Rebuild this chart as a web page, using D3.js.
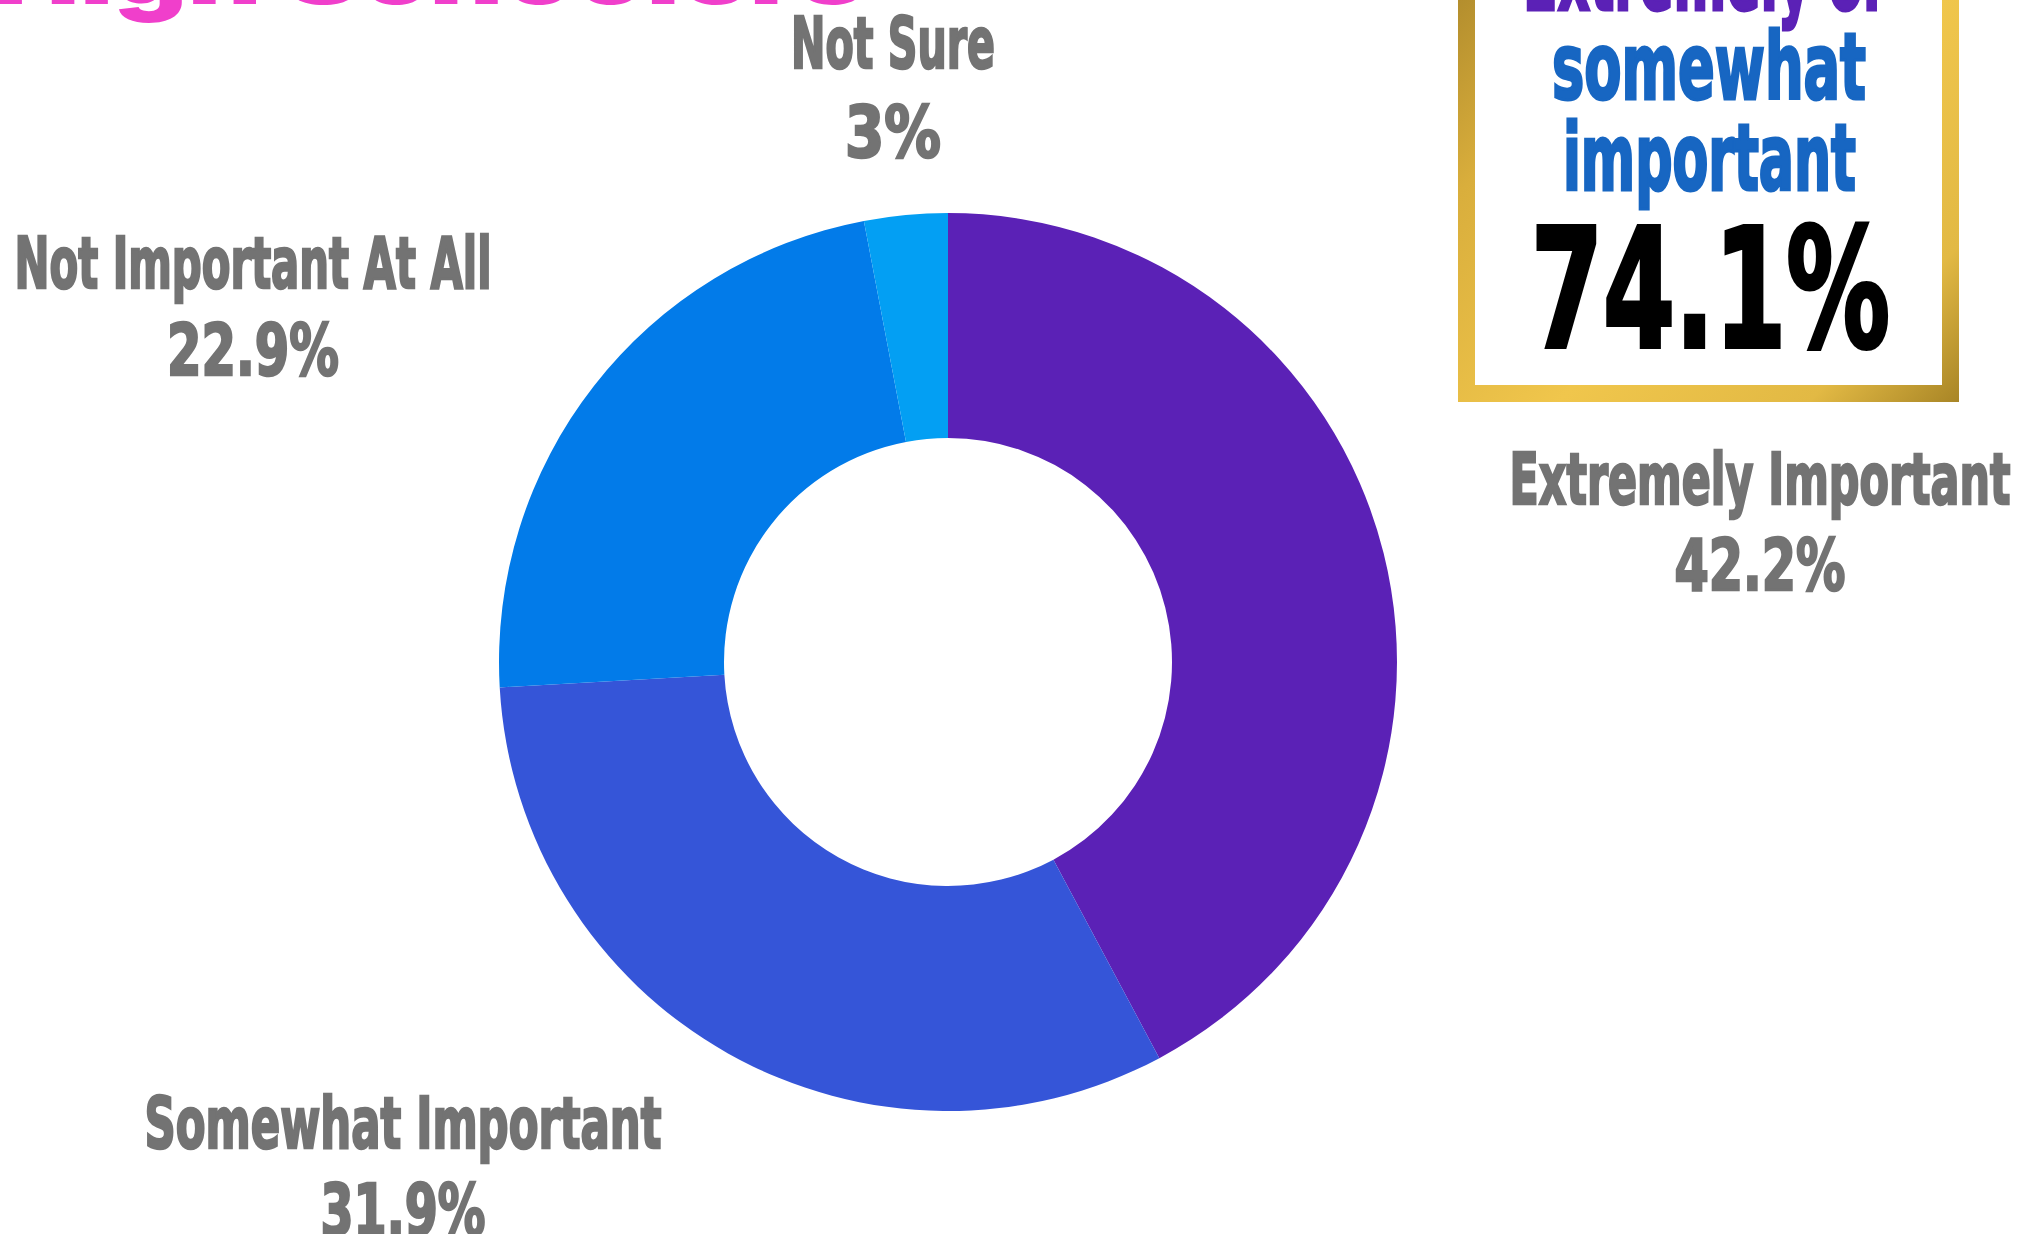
<!DOCTYPE html>
<html>
<head>
<meta charset="utf-8">
<script src="https://cdn.jsdelivr.net/npm/d3@7"></script>
<style>
  html, body { margin: 0; padding: 0; background: #ffffff; overflow: hidden; }
  svg { display: block; }
  text { font-family: "Liberation Sans Narrow", "DejaVu Sans Condensed", "Roboto", sans-serif; font-weight: bold; }
</style>
</head>
<body>
<svg id="chart" width="2044" height="1234"></svg>
<script>
// ---- data ----
const categories = ["Extremely Important", "Somewhat Important", "Not Important At All", "Not Sure"];
const values = [42.2, 31.9, 22.9, 3];
const valueLabels = ["42.2%", "31.9%", "22.9%", "3%"];
const colors = ["#5B21B6", "#3555D8", "#027BE9", "#039FF3"];
const titleText = "High Schoolers";
const calloutLines = ["Extremely or", "somewhat", "important"];
const calloutValue = "74.1%";

// ---- layout ----
const W = 2044, H = 1234;
const cx = 948, cy = 662, outerR = 449, innerR = 224;
const labelLayout = [
  { cx: 1760, base1: 504, base2: 590, w1: 501, w2: 171 },
  { cx: 403,  base1: 1148, base2: 1235, w1: 517, w2: 165 },
  { cx: 253,  base1: 288, base2: 375, w1: 477, w2: 172 },
  { cx: 893,  base1: 68,  base2: 157, w1: 204, w2: 96 }
];

const svg = d3.select("#chart");

// gold gradient
const defs = svg.append("defs");
const grad = defs.append("linearGradient").attr("id", "gold")
  .attr("x1", "0%").attr("y1", "0%").attr("x2", "100%").attr("y2", "100%");
[["0%", "#9C7A24"], ["30%", "#D9AE3C"], ["60%", "#F0C64C"], ["85%", "#E2B944"], ["100%", "#A88526"]]
  .forEach(([o, c]) => grad.append("stop").attr("offset", o).attr("stop-color", c));

// title (cut at top)
svg.append("text")
  .attr("x", -6).attr("y", 4)
  .attr("textLength", 872).attr("lengthAdjust", "spacingAndGlyphs")
  .style("font-family", "Inter, 'Open Sans', sans-serif")
  .style("font-weight", 900)
  .style("font-size", "90px")
  .attr("fill", "#F03FCB")
  .text(titleText);

// donut
const pie = d3.pie().sort(null).value(d => d)(values);
const arc = d3.arc().innerRadius(innerR).outerRadius(outerR);
const color = d3.scaleOrdinal().domain(categories).range(colors);

svg.append("g").attr("transform", `translate(${cx},${cy})`)
  .selectAll("path").data(pie).join("path")
  .attr("d", arc)
  .attr("fill", (d, i) => color(categories[i]));

// labels
const lab = svg.append("g");
function heavy(sel, col, sw) {
  return sel.attr("fill", col).attr("stroke", col).attr("stroke-width", sw).attr("stroke-linejoin", "miter");
}
categories.forEach((c, i) => {
  const L = labelLayout[i];
  heavy(lab.append("text")
    .attr("x", L.cx - L.w1 / 2).attr("y", L.base1)
    .attr("textLength", L.w1).attr("lengthAdjust", "spacingAndGlyphs")
    .style("font-size", "72px"), "#737373", 2.5)
    .text(c);
  heavy(lab.append("text")
    .attr("x", L.cx - L.w2 / 2).attr("y", L.base2)
    .attr("textLength", L.w2).attr("lengthAdjust", "spacingAndGlyphs")
    .style("font-size", "72px"), "#737373", 2.5)
    .text(valueLabels[i]);
});

// callout box
const bx0 = 1458, bx1 = 1959, by0 = -120, by1 = 402, bw = 17;
svg.append("rect").attr("x", bx0).attr("y", by0).attr("width", bx1 - bx0).attr("height", by1 - by0)
  .attr("fill", "url(#gold)");
svg.append("rect").attr("x", bx0 + bw).attr("y", by0 + bw).attr("width", bx1 - bx0 - 2 * bw).attr("height", by1 - by0 - 2 * bw)
  .attr("fill", "#ffffff");

const callout = svg.append("g");
const cLayout = [
  { x0: 1523, w: 365, base: 10, fill: "#5B21B6", size: 95 },
  { x0: 1552, w: 314, base: 99, fill: "#1766C2", size: 93 },
  { x0: 1563, w: 293, base: 190, fill: "#1766C2", size: 93 }
];
calloutLines.forEach((t, i) => {
  const L = cLayout[i];
  heavy(callout.append("text")
    .attr("x", L.x0).attr("y", L.base)
    .attr("textLength", L.w).attr("lengthAdjust", "spacingAndGlyphs")
    .style("font-size", L.size + "px"), L.fill, 3)
    .text(t);
});
heavy(callout.append("text")
  .attr("x", 1531).attr("y", 347)
  .attr("textLength", 359).attr("lengthAdjust", "spacingAndGlyphs")
  .style("font-size", "165px"), "#000000", 4)
  .text(calloutValue);
</script>
</body>
</html>
